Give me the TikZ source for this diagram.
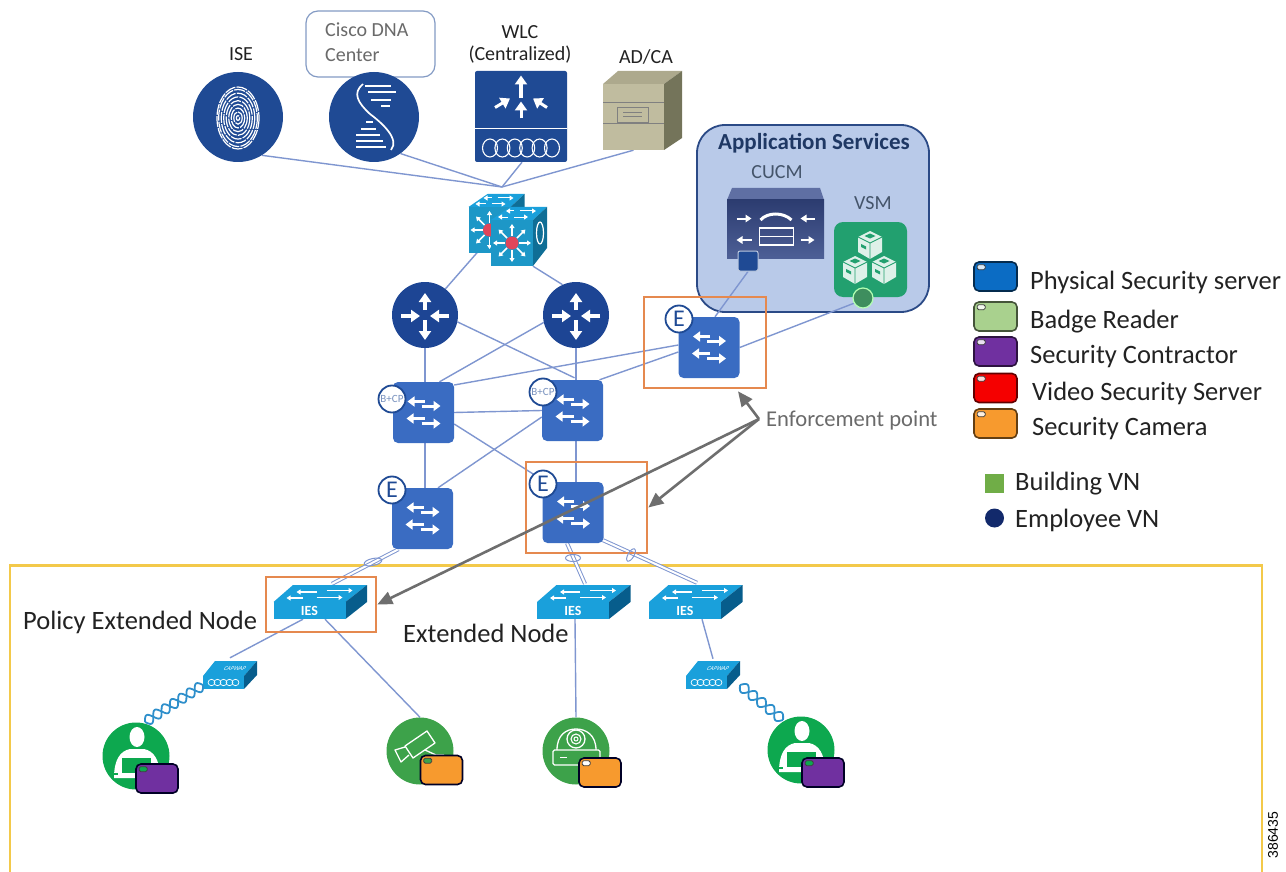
\documentclass[tikz,border=0pt]{standalone}
\usepackage{fontspec}
\setmainfont{Carlito}
\usetikzlibrary{calc,arrows.meta,shapes.geometric}
\definecolor{navy}{HTML}{1F4A94}
\definecolor{rtblue}{HTML}{1D4594}
\definecolor{swblue}{HTML}{3A6CC2}
\definecolor{linkc}{HTML}{7F96D0}
\definecolor{orng}{HTML}{E5894F}
\definecolor{ylw}{HTML}{F3C94A}
\definecolor{cisco}{HTML}{1AA0DB}
\definecolor{ciscodark}{HTML}{075D8C}
\definecolor{cubeface}{HTML}{1D97C7}
\definecolor{cubeside}{HTML}{0F6E96}
\definecolor{gbadge}{HTML}{0DA84F}
\definecolor{gcam}{HTML}{3DA24A}
\definecolor{tblue}{HTML}{0B6CC4}
\definecolor{tgreen}{HTML}{A9D18E}
\definecolor{tpurple}{HTML}{7030A0}
\definecolor{tred}{HTML}{F50000}
\definecolor{torange}{HTML}{F79A2E}
\definecolor{txt}{HTML}{222222}
\definecolor{grayt}{HTML}{6A6A6A}
\definecolor{arrowg}{HTML}{6E6E6E}
\definecolor{appfill}{HTML}{B9CAE9}
\definecolor{appline}{HTML}{2B4A86}
\definecolor{appt}{HTML}{1F3864}
\definecolor{appg}{HTML}{44546A}
\definecolor{cucmtop}{HTML}{5F6FA3}
\definecolor{cucmhi}{HTML}{2C3C70}
\definecolor{cucmlo}{HTML}{4D5F96}
\definecolor{vsmg}{HTML}{22A06F}
\definecolor{vsmd}{HTML}{3E8E5E}
\definecolor{adfront}{HTML}{C0BC9F}
\definecolor{adtop}{HTML}{ADA98D}
\definecolor{adside}{HTML}{74745A}
\definecolor{bvg}{HTML}{70AD47}
\definecolor{evb}{HTML}{12296B}
\definecolor{coilb}{HTML}{2E8FCB}
\definecolor{corered}{HTML}{E0455A}
\newcommand{\fs}[1]{\fontsize{#1}{#1}\selectfont}
\pgfdeclarelayer{backbox}
\pgfdeclarelayer{linklayer}
\pgfsetlayers{backbox,linklayer,main}
\tikzset{
  x=1pt,y=-1pt,
  link/.style={draw=linkc,line width=1.4pt},
  duallink/.style={draw=linkc,line width=1pt,double=white,double distance=2pt},
  lag/.style={ellipse,draw=linkc,line width=1pt,inner sep=0,minimum width=16pt,minimum height=7pt},
  sq/.style={rectangle,rounded corners=5pt,fill=swblue,minimum size=61pt,inner sep=0},
  rtr/.style={circle,fill=rtblue,minimum size=66pt,inner sep=0},
  roundicon/.style={circle,fill=navy,minimum size=90pt,inner sep=0},
  badgee/.style={circle,fill=white,draw=#1,line width=1.8pt,minimum size=27pt,inner sep=0},
  badgee/.default={black},
  orbox/.style={rectangle,draw=orng,line width=2.6pt,inner sep=0},
  enfarrow/.style={draw=arrowg,line width=2.6pt,-{Triangle[length=15pt,width=13pt]}},
  wa/.style={draw=white,line width=3pt,-{Triangle[width=10pt,length=7pt]}},
  wb/.style={draw=white,line width=4pt,-{Triangle[width=12pt,length=9pt]}},
  wc/.style={draw=white,line width=1.5pt,-{Triangle[width=5pt,length=4pt]}},
  wd/.style={draw=white,line width=2pt,-{Triangle[width=7.5pt,length=6pt]}},
  lab/.style={inner sep=0,text=txt,align=center},
  labl/.style={inner sep=0,text=txt,anchor=west},
  tagbox/.style={rectangle,rounded corners=5pt,line width=1.6pt,minimum width=42pt,minimum height=29pt,inner sep=0},
  tagled/.style={rectangle,rounded corners=1.5pt,draw=black!75,line width=.8pt,minimum width=8pt,minimum height=5pt,inner sep=0},
  iesnode/.style={rectangle,fill=cisco,minimum width=72pt,minimum height=17pt,inner sep=0,text=white,font=\fs{14}\bfseries},
  apnode/.style={rectangle,fill=cisco,minimum width=41pt,minimum height=13pt,inner sep=0},
  coil/.style={draw=coilb,line width=1.8pt},
  endpt/.style={circle,minimum size=67pt,inner sep=0},
  sarrows/.pic={
    \draw[wa] (1,-11)--(-16,-11); \draw[wa] (-2,-6.5)--(17,-6.5);
    \draw[wa] (1,6)--(-17,6); \draw[wa] (-2,11)--(17,11);
  },
  rarrows/.pic={
    \draw[wb] (0,-5)--(0,-22); \draw[wb] (0,5)--(0,25);
    \draw[wb] (-24,1)--(-5,1); \draw[wb] (24,1)--(5,1);
  },
  fingerprint/.pic={
    \foreach \k in {.08,.2,.32,.44,.56,.68,.8,.92,1}{
      \draw[white,line width=1.2pt,dash pattern=on 11pt off 1.2pt] (0,1) ellipse [x radius=21*\k,y radius=31*\k];
    }
  },
  dnaicon/.pic={
    \draw[white,line width=1.7pt] (-11,-33) .. controls (-22,-24) and (-16,-14) .. (-4,-3) .. controls (8,6) and (26,22) .. (17,33);
    \foreach \a/\b/\c in {-31/-9/17,-25/-6/22,-17/-3/17,-11/7/16,5/-8/-1,12/-13/2,18/-18/6,24/-18/9,30/-18/12}{
      \draw[white,line width=1.7pt] (\b,\a)--(\c,\a);
    }
  },
  coilrow/.pic={
    \foreach \i in {0,1,2,3,4,5}{\draw[white,line width=1.1pt] (\i*12.4-31,0) ellipse [x radius=7.5,y radius=9];}
  },
  wlcicon/.pic={
    \draw[wb,line width=3.4pt] (0,-18)--(0,-41);
    \draw[wb,line width=3pt] (0,2)--(0,-15);
    \draw[wb,line width=3pt] (-26,-9)--(-11,-18);
    \draw[wb,line width=3pt] (26,-9)--(12,-18);
    \draw[white,line width=1.4pt] (-46,12)--(46,12);
    \pic at (0,31.5) {coilrow};
  },
  corecube/.pic={
    \fill[cisco] (-21,-23)--(-2,-36)--(35,-36)--(21,-23)--cycle;
    \fill[cubeside] (21,-23)--(35,-36)--(35,5)--(21,23)--cycle;
    \fill[cubeface] (-21,-23) rectangle (21,23);
    \draw[white,line width=1.2pt] (28,-10) ellipse [x radius=3.5,y radius=11];
    \draw[wc,line width=1pt] (2,-32)--(-6,-32); \draw[wc,line width=1pt] (8,-32)--(24,-32);
    \draw[wc,line width=1pt] (-4,-26)--(-14,-26); \draw[wc,line width=1pt] (2,-26)--(16,-26);
    \foreach \q in {0,45,...,315}{\draw[wc] (\q:7)--(\q:19);}
    \fill[corered] (0,0) circle[radius=6.5];
  },
  iestop/.pic={
    \fill[cisco] (-36,-8.5)--(-16.5,-25.5)--(57.5,-25.5)--(36,-8.5)--cycle;
    \fill[ciscodark] (36,-8.5)--(57.5,-25.5)--(57.5,-8.5)--(36,8.5)--cycle;
    \draw[wc] (7,-18.5)--(-13,-18.5); \draw[wc] (17,-20)--(43,-20);
    \draw[wc] (-7,-12.5)--(-23,-12.5); \draw[wc] (7,-13)--(33,-13);
  },
  aptop/.pic={
    \fill[cisco] (-20.5,-6.5)--(-8.5,-21.5)--(33.5,-21.5)--(20.5,-6.5)--cycle;
    \fill[ciscodark] (20.5,-6.5)--(33.5,-21.5)--(33.5,-7.5)--(20.5,6.5)--cycle;
  },
  apcoil/.pic={
    \foreach \i in {0,1,2,3,4}{\draw[white,line width=.7pt] (\i*6-12,0) ellipse [x radius=3.4,y radius=3.2];}
  },
  personicon/.pic={
    \fill[white] (1,-19) ellipse [x radius=7.5,y radius=10];
    \fill[white] (-22,22) .. controls (-22,4) and (-16,-5) .. (-6,-7) -- (8,-7) .. controls (18,-5) and (24,4) .. (24,22) -- cycle;
    \fill[gbadge] (-14,2) rectangle (15,17);
    \fill[gbadge] (-22,17) rectangle (-18,19);
  },
  cameraicon/.pic={
    \draw[white,line width=1.3pt,line join=round] (-15,-5)--(7,-20)--(15,-8)--(-7,7)--cycle;
    \draw[white,line width=1.3pt,line join=round] (-15,-4)--(-25,-1)--(-19,11)--(-11,4);
    \draw[white,line width=1.3pt] (5,-1)--(16,4)--(24,4);
  },
  domeicon/.pic={
    \draw[white,line width=1.3pt] (-19,-1) .. controls (-19,-16) and (-10,-22) .. (0,-22) .. controls (10,-22) and (20,-16) .. (20,-1);
    \draw[white,line width=1.3pt] (0,-12) circle[radius=9];
    \draw[white,line width=1.1pt] (0,-12) circle[radius=5];
    \draw[white,line width=1pt] (0,-12) circle[radius=2];
    \draw[white,line width=1.3pt,rounded corners=1.5pt] (-23,-1) rectangle (24,14);
    \draw[white,line width=1.2pt] (-16,6.5)--(-9,6.5);
  },
  cucmicon/.pic={
    \draw[wd] (-39,-10.5)--(-24,-10.5);
    \draw[wd] (39,-10.5)--(25,-10.5);
    \draw[wd] (-24,11)--(-39,11);
    \draw[wd] (25,11)--(39,11);
    \draw[white,line width=3pt] (-15,-9) .. controls (-8,-17) and (8,-17) .. (16,-9);
    \draw[white,line width=1.7pt] (-16,-1) rectangle (18,16);
    \draw[white,line width=1.7pt] (-16,7.5)--(18,7.5);
  },
  vsmcube/.pic={
    \fill[white!85!vsmg] (-12,-8)--(0,-14)--(12,-8)--(12,7)--(0,14)--(-12,7)--cycle;
    \fill[vsmg] (-5.5,-9)--(0,-11.5)--(5.5,-9)--(0,-6.5)--cycle;
    \draw[vsmg,line width=.9pt] (-12,-8)--(0,-2)--(12,-8) (0,-2)--(0,14);
    \fill[vsmg] (-9,-1) -- (-4,1.5) -- (-4,4.5) -- (-9,2) -- cycle;
  }
}
\begin{document}
\begin{tikzpicture}
\useasboundingbox (0,0) rectangle (1286,872);

% top icons
\node[rectangle,rounded corners=12pt,draw=navy!55!white,line width=1.2pt,fill=white,minimum width=129pt,minimum height=66pt,inner sep=0] (dnabox) at (370.5,44) {};
\node[anchor=north west,inner sep=0,text=grayt,align=left,font=\fs{20}] (dnalab) at (325,23) {Cisco DNA\\[5pt]Center};
\node[lab,font=\fs{20}] (iselab) at (241,54) {ISE};
\node[lab,font=\fs{20}] (wlclab) at (520,44) {WLC\\[2pt](Centralized)};
\node[lab,font=\fs{20}] (adlab) at (646,57) {AD/CA};

\node[roundicon] (ise) at (238,117) {};
\pic at (238,117) {fingerprint};
\node[roundicon] (dna) at (374,117) {};
\pic at (374,117) {dnaicon};
\node[rectangle,rounded corners=2pt,fill=navy,minimum width=92pt,minimum height=91pt,inner sep=0] (wlc) at (521,116.5) {};
\pic at (521,116.5) {wlcicon};

\fill[adtop] (603,84)--(618,71)--(682,71)--(664,84)--cycle;
\fill[adside] (664,84)--(682,71)--(682,138)--(664,150)--cycle;
\node[rectangle,fill=adfront,minimum width=61pt,minimum height=66pt,inner sep=0] (adca) at (633.5,117) {};
\draw[black!50,line width=.8pt] (603,102)--(664,102) (603,123)--(664,123);
\draw[black!50,line width=.9pt] (617,107) rectangle (648,122);
\draw[black!50,line width=.8pt] (623,112)--(642,112) (623,116)--(642,116);

\coordinate (hub) at (502,187);

% core
\pic at (489.5,230) {corecube};
\node[rectangle,minimum width=42pt,minimum height=44pt,inner sep=0] (core1) at (489.5,230) {};
\pic at (512,243) {corecube};
\node[rectangle,minimum width=42pt,minimum height=46pt,inner sep=0] (core2) at (512,243) {};

% routers
\node[rtr] (r1) at (425,315) {};
\pic at (425,315) {rarrows};
\node[rtr] (r2) at (576,315) {};
\pic at (576,315) {rarrows};

% application services
\begin{pgfonlayer}{backbox}
\node[rectangle,rounded corners=28pt,fill=appfill,draw=appline,line width=1.8pt,minimum width=232pt,minimum height=187pt,inner sep=0] (app) at (813,218.5) {};
\draw[ylw,line width=2.6pt] (10,872)--(10,565.5)--(1262,565.5)--(1262,872);
\end{pgfonlayer}
\node[lab,font=\fs{23}\bfseries,text=appt] (applab) at (814,143) {Application Services};
\node[lab,font=\fs{20},text=appg] (cucmlab) at (777,172) {CUCM};
\node[lab,font=\fs{20},text=appg] (vsmlab) at (873,203) {VSM};

\fill[cucmtop] (727,200)--(732,188)--(820,188)--(824,200)--cycle;
\node[rectangle,top color=cucmhi,bottom color=cucmlo,minimum width=97pt,minimum height=58pt,inner sep=0] (cucm) at (775.5,229) {};
\pic at (775.5,229) {cucmicon};
\node[rectangle,rounded corners=2pt,fill=navy,draw=white!70!navy,line width=1pt,minimum size=20pt,inner sep=0] (cp) at (748,261) {};

\node[rectangle,rounded corners=9pt,fill=vsmg,minimum width=73pt,minimum height=75pt,inner sep=0] (vsm) at (870.5,259.5) {};
\pic at (870,245) {vsmcube};
\pic at (855,270) {vsmcube};
\pic at (884,270) {vsmcube};
\node[circle,fill=vsmd,draw=white!70!green,line width=1.2pt,minimum size=20pt,inner sep=0] (vc) at (863,298) {};

% switches
\node[sq] (tl) at (423.5,412.5) {}; \pic at (423.5,412.5) {sarrows};
\node[sq] (tr) at (572.5,410.5) {}; \pic at (572.5,410.5) {sarrows};
\node[sq] (bl) at (422.5,518.5) {}; \pic at (422.5,518.5) {sarrows};
\node[sq] (br) at (573,512.5) {}; \pic at (573,512.5) {sarrows};
\node[sq] (sr) at (709,347.5) {}; \pic at (709,347.5) {sarrows};

\node[badgee=navy,text=navy!60!white,font=\fs{11}] (btl) at (392,399) {B+CP};
\node[badgee=navy,text=navy!60!white,font=\fs{11}] (btr) at (543,392) {B+CP};
\node[badgee=navy,text=navy,font=\fs{24}] (ebl) at (392,490) {E};
\node[badgee=navy,text=navy,font=\fs{24}] (ebr) at (543,484) {E};
\node[badgee=navy,text=navy,font=\fs{24}] (esr) at (679,319) {E};

% orange boxes
\node[orbox,minimum width=122pt,minimum height=91pt] (o1) at (705,342.5) {};
\node[orbox,minimum width=121pt,minimum height=91pt] (o2) at (586.5,507.5) {};

% IES
\pic at (309.5,610.5) {iestop};
\node[iesnode] (ies1) at (309.5,610.5) {IES};
\node[orbox,minimum width=110pt,minimum height=55pt] (o3) at (321,604.5) {};
\pic at (573,610.5) {iestop};
\node[iesnode] (ies2) at (573,610.5) {IES};
\pic at (685,610.5) {iestop};
\node[iesnode] (ies3) at (685,610.5) {IES};

% APs
\pic at (223.5,682.5) {aptop};
\node[apnode] (ap1) at (223.5,682.5) {};
\pic at (223.5,682.5) {apcoil};
\node[inner sep=0,text=white,font=\fs{6}\itshape,xslant=.4] (ap1t) at (235,668.5) {CAPWAP};
\pic at (706.5,682.5) {aptop};
\node[apnode] (ap2) at (706.5,682.5) {};
\pic at (706.5,682.5) {apcoil};
\node[inner sep=0,text=white,font=\fs{6}\itshape,xslant=.4] (ap2t) at (718,668.5) {CAPWAP};

% wireless
\draw[coil,smooth] plot[samples=90,domain=0:1] ({203-58*\x+.538*5*sin(1260*\x)},{685+37*\x+.843*5*sin(1260*\x)});
\draw[coil,smooth] plot[samples=90,domain=0:1] ({203-58*\x-.538*5*sin(1260*\x)},{685+37*\x-.843*5*sin(1260*\x)});
\draw[coil,smooth] plot[samples=70,domain=0:1] ({740+43*\x-.63*5*sin(900*\x)},{685+35*\x+.78*5*sin(900*\x)});
\draw[coil,smooth] plot[samples=70,domain=0:1] ({740+43*\x+.63*5*sin(900*\x)},{685+35*\x-.78*5*sin(900*\x)});

% endpoints
\node[endpt,fill=gbadge] (u1) at (136,756) {}; \pic at (136,756) {personicon};
\node[endpt,fill=gcam] (cam) at (420,751) {}; \pic at (420,751) {cameraicon};
\node[endpt,fill=gcam] (dome) at (576,751) {}; \pic at (576,751) {domeicon};
\node[endpt,fill=gbadge] (u2) at (801,750) {}; \pic at (801,750) {personicon};

\foreach \n/\xx/\yy/\c/\l in {a/157/778.5/tpurple/gbadge,b/441.5/770/torange/gcam,c/600/772.5/torange/white,d/823/772.5/tpurple/gbadge}{
  \node[tagbox,fill=\c,draw=black!85!blue] (tag\n) at (\xx,\yy) {};
  \node[tagled,fill=\l] (led\n) at ($(tag\n.north west)+(8,6)$) {};
}

% legend
\foreach \n/\yy/\c/\xt/\t in {p/276.5/tblue/1030/Physical Security server,q/316.5/tgreen/1030/Badge Reader,s/351.5/tpurple/1030/Security Contractor,v/388/tred/1032/Video Security Server,w/423.5/torange/1032/Security Camera}{
  \node[tagbox,minimum width=43pt,fill=\c,draw=\c!40!black] (lg\n) at (995.5,\yy) {};
  \node[tagled,fill=white!85!\c] (lgl\n) at ($(lg\n.north west)+(8,6)$) {};
  \node[labl,font=\fs{26.5}] (lgt\n) at (\xt,\yy+5.5) {\t};
}
\node[rectangle,fill=bvg,minimum size=19pt,inner sep=0] (bvn) at (994.5,483) {};
\node[labl,font=\fs{26.5}] (bvnt) at (1015,484) {Building VN};
\node[circle,fill=evb,minimum size=19pt,inner sep=0] (evn) at (994.5,518) {};
\node[labl,font=\fs{26.5}] (evnt) at (1015,520) {Employee VN};

% texts
\node[labl,font=\fs{26.5}] (pen) at (23,622) {Policy Extended Node};
\node[labl,font=\fs{26.5}] (en) at (403,633) {Extended Node};
\node[labl,font=\fs{22.6},text=grayt] (ept) at (766,421) {Enforcement point};
\coordinate (ep) at (759,419);
\node[inner sep=0,rotate=90,text=black,font=\fs{14}\fontspec{Liberation Sans}] (fig) at (1273,835) {386435};

% enforcement arrows
\draw[enfarrow] (ep) -- ($(o1.south)+(33,2)$);
\draw[enfarrow] (ep) -- (o2.east);
\draw[enfarrow] (ep) -- (o3.east);

% connectors
\begin{pgfonlayer}{linklayer}
\draw[link] (ise.-58) -- (hub);
\draw[link] (dna.-54) -- (hub);
\draw[link] ($(wlc.south)+(1,0)$) -- (hub);
\draw[link] (adca.south) -- (hub);
\draw[link] ($(core1.south)+(-12,0)$) -- (r1.52);
\draw[link] ($(core2.south)+(21,0)$) -- (r2.114);
\draw[link] (r1.south) -- ($(tl.north)+(1.5,0)$);
\draw[link] (r2.south) -- ($(tr.north)+(3.5,0)$);
\draw[link] (r1.-12) -- ($(tr.north)+(2,-2)$);
\draw[link] (r2.193) -- ($(tl.north)+(16,0)$);
\draw[link] ($(tl.east)+(0,-27.5)$) -- ($(sr.west)+(0,-2.5)$);
\draw[link] ($(tr.north)+(27,0)$) -- ($(sr.west)+(0,4.5)$);
\draw[link] (tl.east) -- (tr.west);
\draw[link] ($(tl.east)+(0,11.5)$) -- (ebr.135);
\draw[link] ($(bl.north)+(15.5,0)$) -- ($(tr.west)+(0,6.5)$);
\draw[link] ($(tl.south)+(1.5,0)$) -- ($(bl.north)+(2.5,0)$);
\draw[link] ($(tr.south)+(3.5,0)$) -- ($(br.north)+(3,0)$);
\draw[link] ($(sr.north)+(6,0)$) -- (cp.south);
\draw[link] (sr.east) -- (vc.210);
\draw[duallink] ($(bl.south)+(-24,0)$) -- ($(ies1.north)+(22.5,-18)$);
\draw[duallink] ($(br.south)+(-6,0)$) -- ($(ies2.north)+(12,-18)$);
\draw[duallink] ($(br.south)+(30,-3)$) -- ($(ies3.north)+(12,-19)$);
\draw[link] ($(ies1.south)+(-6.5,0)$) -- ($(ap1.north)+(6.5,-18)$);
\draw[link] ($(ies1.south)+(15.5,0)$) -- (cam.north);
\draw[link] ($(ies2.south)+(2,0)$) -- (dome.north);
\draw[link] ($(ies3.south)+(17,0)$) -- ($(ap2.north)+(6.5,-17)$);
\end{pgfonlayer}
\node[lag,minimum width=18pt,rotate=12] (lag1) at (373,562) {};
\node[lag,minimum width=15pt] (lag2) at (573,558) {};
\node[lag,minimum width=14pt,minimum height=6pt,rotate=60] (lag3) at (631,555) {};
\end{tikzpicture}
\end{document}
